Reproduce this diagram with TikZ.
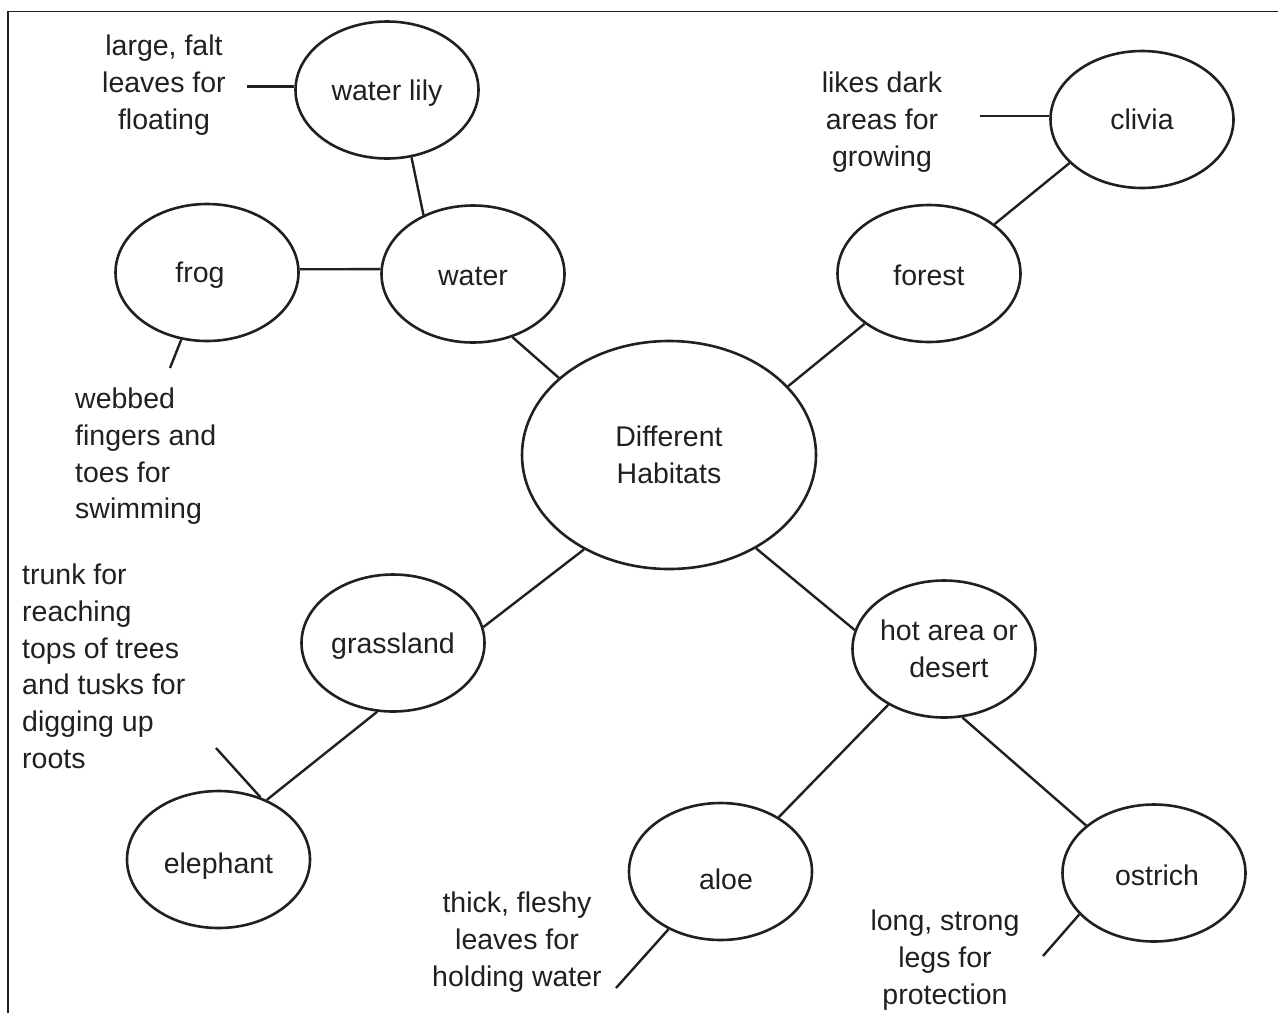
\documentclass[tikz,border=0pt]{standalone}
\usepackage{fontspec}
\setmainfont{Liberation Sans}
\usetikzlibrary{shapes.geometric}
\definecolor{ink}{HTML}{231F20}
\begin{document}
\begin{tikzpicture}[x=1pt,y=-1pt,
  every node/.style={font=\fontsize{28.5}{36.7}\selectfont, text=ink},
  hab/.style={ellipse, draw=ink, line width=2.6pt, inner sep=-12pt,
    minimum width=183pt, minimum height=137pt, align=center},
  th/.style={text depth=0pt, text height=#1},
  lbl/.style={inner sep=0pt},
  con/.style={draw=ink, line width=2.4pt}]
\useasboundingbox (0,0) rectangle (1278,1013);
\draw[ink, line width=1.3pt] (8,1013) -- (8,11.5) -- (1278,11.5);

% habitat / organism ellipses
\node[hab, th=20.4pt] (wl) at (387,90) {water lily};
\node[hab, th=22.8pt] (water) at (473,274) {water};
\node[hab, th=20.4pt] (frog) at (207,272.5) {\kern-14pt frog};
\node[hab, minimum width=294pt, minimum height=228pt] (dh) at (669,455) {Different\\Habitats};
\node[hab, th=20.4pt] (clivia) at (1142,119.5) {clivia};
\node[hab, th=24.4pt] (forest) at (929,273.5) {forest};
\node[hab, th=20.4pt] (grass) at (393,643) {grassland};
\node[hab] (hot) at (944,649) {\kern10pt hot area or\\\kern10pt desert};
\node[hab, th=28.4pt] (eleph) at (218.5,859.5) {elephant};
\node[hab, th=36.4pt] (aloe) at (720.5,871.5) {\kern11pt aloe};
\node[hab, th=24.4pt] (ostrich) at (1154,873) {\kern6pt ostrich};

% labels
\node[lbl, anchor=north, align=center] (tlily) at (164,35) {large, falt\\leaves for\\floating};
\node[lbl, anchor=north west, align=left] (tfrog) at (75,388) {webbed\\fingers and\\toes for\\swimming};
\node[lbl, anchor=north, align=center] (tclivia) at (882,72) {likes dark\\areas for\\growing};
\node[lbl, anchor=north west, align=left] (teleph) at (22,564) {trunk for\\reaching\\tops of trees\\and tusks for\\digging up\\roots};
\node[lbl, anchor=north, align=center] (taloe) at (517,892) {thick, fleshy\\leaves for\\holding water};
\node[lbl, anchor=north, align=center] (tostrich) at (945,910) {long, strong\\legs for\\protection};

% free ends of label connectors
\coordinate (elily) at (247,86.5);
\coordinate (efrog) at (170,368);
\coordinate (eclivia) at (980,116);
\coordinate (eeleph) at (216,748);
\coordinate (ealoe) at (616,988);
\coordinate (eostrich) at (1043,956);

% connectors
\draw[con] (elily) -- (elily -| wl.west);
\draw[con] (wl.-70.6) -- (water.130.8);
\draw[con] (frog.2) -- (water.177);
\draw[con] (frog.249.4) -- (efrog);
\draw[con] (water.-58.6) -- (dh.145.1);
\draw[con] (dh.30.5) -- (forest.218.5);
\draw[con] (forest.37.4) -- (clivia.211.7);
\draw[con] (eclivia) -- (eclivia -| clivia.west);
\draw[con] (dh.228.6) -- (grass.10);
\draw[con] (dh.-47.6) -- (hot.168);
\draw[con] (grass.-103) -- (eleph.51.4);
\draw[con] (eeleph) -- (eleph.56);
\draw[con] (hot.-135) -- (aloe.43);
\draw[con] (hot.-75) -- (ostrich.145.6);
\draw[con] (aloe.228.6) -- (ealoe);
\draw[con] (ostrich.209.3) -- (eostrich);
\end{tikzpicture}
\end{document}
